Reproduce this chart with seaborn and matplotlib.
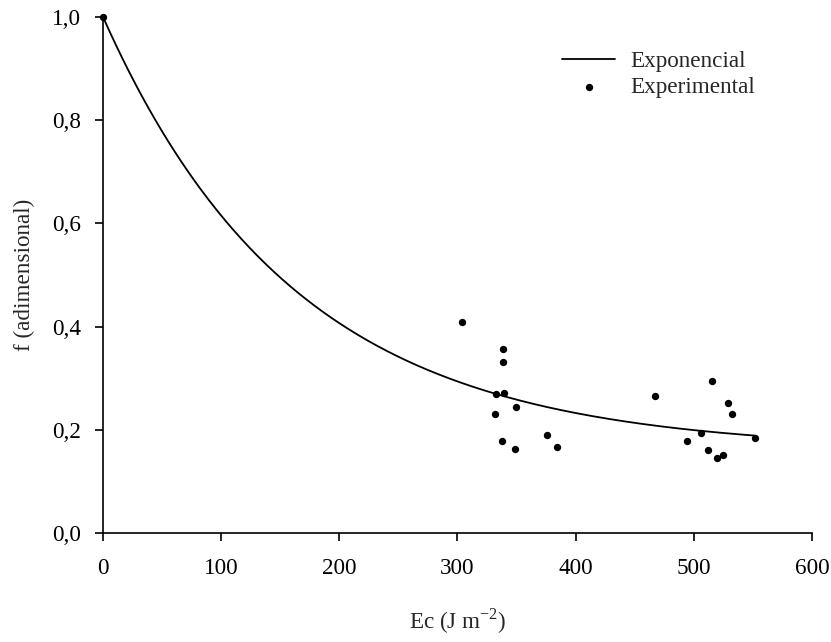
import numpy as np
import pandas as pd
import matplotlib
matplotlib.use("Agg")
import matplotlib.pyplot as plt
import seaborn as sns

# Experimental observations: cumulative energy Ec (J m^-2) and factor f
ec_obs = [0, 303.8, 338.2, 338.2, 332.3, 339.3, 349.5, 331.4, 337.4, 348.6,
          375.5, 384.2, 467.4, 515.4, 529.2, 532.3, 506.3, 494.0, 552.0,
          512.3, 519.3, 524.4]
f_obs = [1.0, 0.409, 0.357, 0.332, 0.270, 0.271, 0.244, 0.230, 0.179, 0.162,
         0.190, 0.167, 0.2655, 0.295, 0.2525, 0.230, 0.194, 0.178, 0.1835,
         0.160, 0.146, 0.150]

# Fitted exponential model f = f_inf + (f0 - f_inf) * exp(-k * Ec)
f0 = 1.0
f_inf = 0.16
k_rate = 0.00613
ec_max = 552.0

x_ticks = [0, 100, 200, 300, 400, 500, 600]
y_ticks = [0.0, 0.2, 0.4, 0.6, 0.8, 1.0]
y_tick_labels = ["0,0", "0,2", "0,4", "0,6", "0,8", "1,0"]

FS = 16.7

sns.set_theme(style="ticks")
plt.rcParams["font.family"] = ["Liberation Serif", "DejaVu Serif"]
plt.rcParams["mathtext.fontset"] = "custom"
plt.rcParams["mathtext.rm"] = "Liberation Serif"

ec_fit = np.linspace(0, ec_max, 400)
fit_df = pd.DataFrame({"Ec": ec_fit,
                       "f": f_inf + (f0 - f_inf) * np.exp(-k_rate * ec_fit)})
obs_df = pd.DataFrame({"Ec": ec_obs, "f": f_obs})

fig = plt.figure(figsize=(8.31, 6.42), dpi=100)
ax = fig.add_axes([0.124, 0.170, 0.853, 0.8035])

sns.lineplot(data=fit_df, x="Ec", y="f", ax=ax, color="black", linewidth=1.3,
             label="Exponencial")
sns.scatterplot(data=obs_df, x="Ec", y="f", ax=ax, color="black", s=28,
                edgecolor="black", linewidth=0, label="Experimental", zorder=3,
                clip_on=False)

ax.set_xlim(0, 600)
ax.set_ylim(0, 1.0)
ax.set_xticks(x_ticks)
ax.set_xticklabels([str(t) for t in x_ticks])
ax.set_yticks(y_ticks)
ax.set_yticklabels(y_tick_labels)

for side in ("top", "right"):
    ax.spines[side].set_visible(False)
for side in ("left", "bottom"):
    ax.spines[side].set_linewidth(1.2)
    ax.spines[side].set_color("black")

ax.tick_params(axis="both", direction="out", length=6, width=1.2,
               labelsize=FS, colors="black")
ax.tick_params(axis="x", pad=12)
ax.tick_params(axis="y", pad=10)

ax.set_xlabel("Ec (J m$^{-2}$)", fontsize=FS, labelpad=20)
ax.set_ylabel("f (adimensional)", fontsize=FS, labelpad=12)

ax.legend(loc="upper left", bbox_to_anchor=(562 / 831, 1 - 51 / 642),
          bbox_transform=fig.transFigure, frameon=False, fontsize=FS,
          handlelength=2.3, handletextpad=0.65, labelspacing=0.2,
          borderpad=0, borderaxespad=0, markerscale=1.0)

fig.savefig("out.png", dpi=100)
